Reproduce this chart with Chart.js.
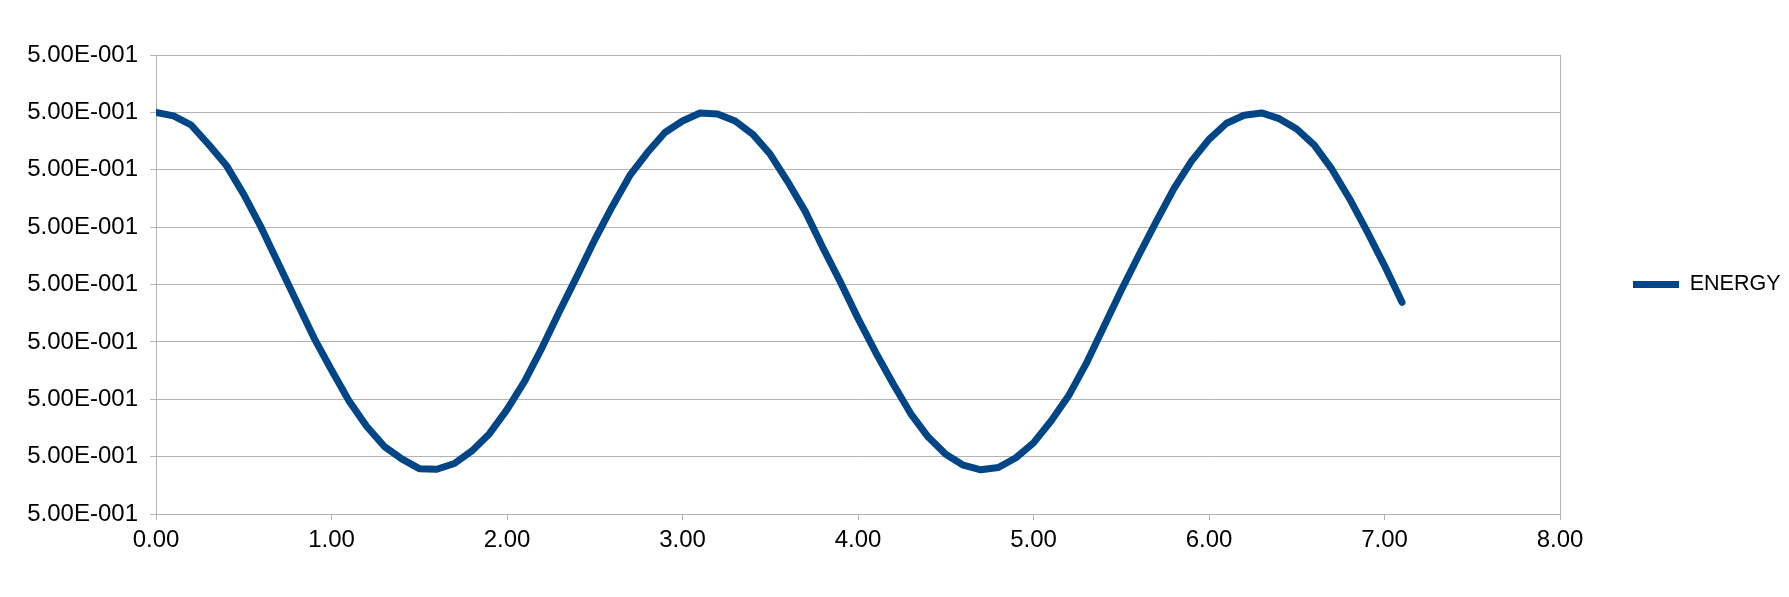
<!DOCTYPE html>
<html>
<head>
<meta charset="utf-8">
<script src="https://cdn.jsdelivr.net/npm/chart.js@4.4.1/dist/chart.umd.min.js"></script>
<style>
  html, body { margin: 0; padding: 0; background: #ffffff; }
  #wrap { width: 1789px; height: 597px; }
</style>
</head>
<body>
<div id="wrap"><canvas id="c" width="1789" height="597"></canvas></div>
<script>
// ---- data ----
const seriesName = "ENERGY";
const timeValues = [
  0.0, 0.1, 0.2, 0.3, 0.4, 0.5, 0.6, 0.7, 0.8, 0.9,
  1.0, 1.1, 1.2, 1.3, 1.4, 1.5, 1.6, 1.7, 1.8, 1.9,
  2.0, 2.1, 2.2, 2.3, 2.4, 2.5, 2.6, 2.7, 2.8, 2.9,
  3.0, 3.1, 3.2, 3.3, 3.4, 3.5, 3.6, 3.7, 3.8, 3.9,
  4.0, 4.1, 4.2, 4.3, 4.4, 4.5, 4.6, 4.7, 4.8, 4.9,
  5.0, 5.1, 5.2, 5.3, 5.4, 5.5, 5.6, 5.7, 5.8, 5.9,
  6.0, 6.1, 6.2, 6.3, 6.4, 6.5, 6.6, 6.7, 6.8, 6.9,
  7.0, 7.1
];
const energyValues = [
  0.5000000300, 0.5000000294, 0.5000000278, 0.5000000244, 0.5000000208,
  0.5000000157, 0.5000000099, 0.5000000035, 0.4999999971, 0.4999999907,
  0.4999999851, 0.4999999797, 0.4999999753, 0.4999999718, 0.4999999696,
  0.4999999679, 0.4999999678, 0.4999999688, 0.4999999710, 0.4999999740,
  0.4999999782, 0.4999999831, 0.4999999890, 0.4999999954, 0.5000000015,
  0.5000000078, 0.5000000136, 0.5000000190, 0.5000000230, 0.5000000265,
  0.5000000285, 0.5000000299, 0.5000000297, 0.5000000285, 0.5000000262,
  0.5000000227, 0.5000000179, 0.5000000127, 0.5000000064, 0.5000000004,
  0.4999999941, 0.4999999882, 0.4999999827, 0.4999999775, 0.4999999734,
  0.4999999704, 0.4999999685, 0.4999999677, 0.4999999681, 0.4999999698,
  0.4999999724, 0.4999999762, 0.4999999806, 0.4999999862, 0.4999999926,
  0.4999999990, 0.5000000051, 0.5000000110, 0.5000000167, 0.5000000215,
  0.5000000253, 0.5000000281, 0.5000000295, 0.5000000299, 0.5000000289,
  0.5000000271, 0.5000000243, 0.5000000201, 0.5000000150, 0.5000000093,
  0.5000000033, 0.4999999969
];
const yTickValues = [
  0.49999996, 0.49999997, 0.49999998, 0.49999999, 0.50000000,
  0.50000001, 0.50000002, 0.50000003, 0.50000004
];
const xTickValues = [0, 1, 2, 3, 4, 5, 6, 7, 8];

// ---- helpers ----
function sciLabel(v) {
  const parts = Number(v).toExponential(2).split('e');
  const n = parseInt(parts[1], 10);
  return parts[0] + 'E' + (n < 0 ? '-' : '+') + String(Math.abs(n)).padStart(3, '0');
}

const GRID = '#b3b3b3';
const LINE = '#004586';
const FONT = 'Liberation Sans, Arial, sans-serif';

const points = timeValues.map((t, i) => ({ x: t, y: energyValues[i] }));

const legendShift = {
  id: 'legendShift',
  afterLayout(chart) {
    const lg = chart.legend;
    if (!lg) return;
    const w = lg.width;
    lg.left = chart.chartArea.right;
    lg.right = lg.left + w;
    lg.top = chart.chartArea.top;
    lg.bottom = chart.chartArea.bottom;
    lg.height = lg.bottom - lg.top;
  }
};

new Chart(document.getElementById('c'), {
  type: 'line',
  data: {
    datasets: [{
      label: seriesName,
      data: points,
      borderColor: LINE,
      backgroundColor: LINE,
      borderWidth: 7,
      borderCapStyle: 'round',
      borderJoinStyle: 'round',
      pointRadius: 0,
      pointHoverRadius: 0,
      tension: 0,
      fill: false,
      pointStyle: 'line'
    }]
  },
  options: {
    responsive: false,
    devicePixelRatio: 1,
    animation: false,
    events: [],
    layout: { padding: { left: 0, top: 55, right: 0, bottom: 0 } },
    plugins: {
      tooltip: { enabled: false },
      legend: {
        display: true,
        position: 'right',
        align: 'center',
        fullSize: false,
        maxWidth: 229,
        labels: {
          usePointStyle: true,
          pointStyle: 'line',
          pointStyleWidth: 46,
          padding: 73,
          color: '#000000',
          font: { family: FONT, size: 21.5 }
        }
      }
    },
    scales: {
      x: {
        type: 'linear',
        min: 0,
        max: 8,
        afterBuildTicks: s => { s.ticks = xTickValues.map(v => ({ value: v })); },
        afterFit: s => { s.height = 83; },
        grid: {
          color: c => (c.index === xTickValues.length - 1 ? GRID : 'rgba(0,0,0,0)'),
          tickColor: GRID,
          tickLength: 6,
          lineWidth: 1
        },
        border: { display: true, color: GRID, width: 1 },
        ticks: {
          color: '#000000',
          font: { family: FONT, size: 24 },
          padding: 6,
          maxRotation: 0,
          autoSkip: false,
          callback: v => Number(v).toFixed(2)
        }
      },
      y: {
        type: 'linear',
        min: yTickValues[0],
        max: yTickValues[yTickValues.length - 1],
        afterBuildTicks: s => { s.ticks = yTickValues.map(v => ({ value: v })); },
        afterFit: s => { s.width = 156; },
        grid: {
          color: GRID,
          tickColor: GRID,
          tickLength: 6,
          lineWidth: 1
        },
        border: { display: true, color: GRID, width: 1 },
        ticks: {
          color: '#000000',
          font: { family: FONT, size: 24 },
          padding: 12,
          autoSkip: false,
          callback: v => sciLabel(v)
        }
      }
    }
  },
  plugins: [legendShift]
});
</script>
</body>
</html>
